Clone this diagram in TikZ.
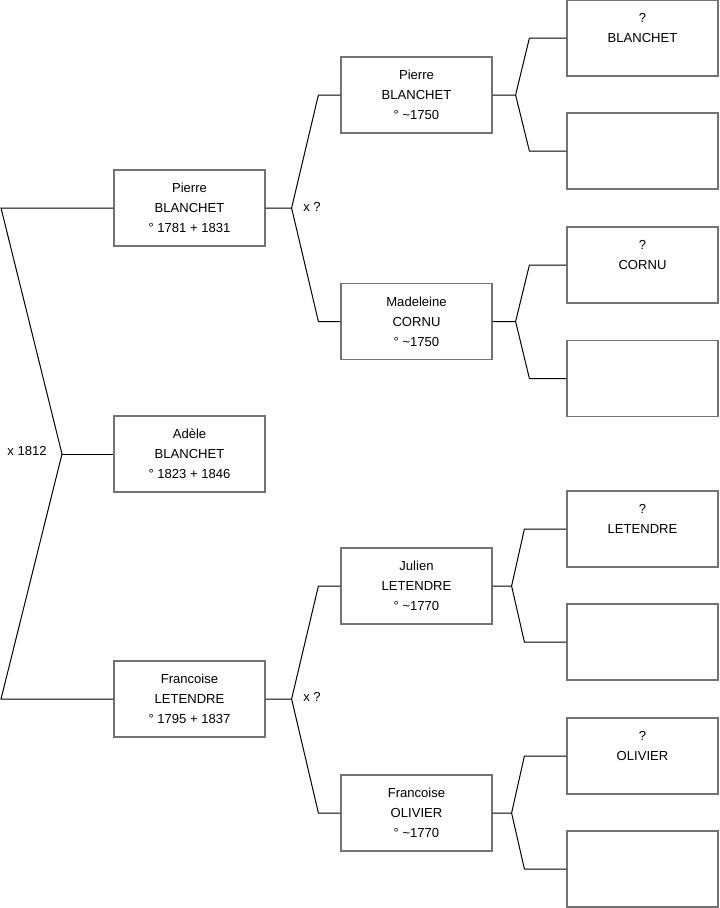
\documentclass[tikz,border=0pt]{standalone}
\usepackage{fontspec}
\setmainfont{Liberation Sans}
\usetikzlibrary{calc}

\tikzset{
	person/.style={draw=black!55, line width=0.9pt, rectangle, minimum width=113.25pt, minimum height=57pt, inner sep=0pt, align=center, font=\fontsize{9.8}{15}\selectfont},
	link/.style={draw=black, line width=0.75pt},
	mlabel/.style={font=\fontsize{9.8}{15}\selectfont, inner sep=0pt},
}

\begin{document}
\begin{tikzpicture}[x=0.75pt,y=-0.75pt]
	\useasboundingbox (0,0) rectangle (719,908);

	% first generation
	\node[person] (p1) at (189.5,208) {Pierre\\BLANCHET\\° 1781 + 1831};
	\node[person] (a) at (189.5,454) {Adèle\\BLANCHET\\° 1823 + 1846};
	\node[person] (f1) at (189.5,699) {Francoise\\LETENDRE\\° 1795 + 1837};

	% second generation
	\node[person] (p2) at (416.5,95) {Pierre\\BLANCHET\\° \textasciitilde1750};
	\node[person] (m2) at (416.5,321.5) {Madeleine\\CORNU\\° \textasciitilde1750};
	\node[person] (j2) at (416.5,586) {Julien\\LETENDRE\\° \textasciitilde1770};
	\node[person] (f2) at (416.5,813) {Francoise\\OLIVIER\\° \textasciitilde1770};

	% third generation
	\node[person] (g1) at (642.5,38) {?\\BLANCHET\\\phantom{0}};
	\node[person] (g2) at (642.5,151) {};
	\node[person] (g3) at (642.5,265) {?\\CORNU\\\phantom{0}};
	\node[person] (g4) at (642.5,378.5) {};
	\node[person] (g5) at (642.5,529) {?\\LETENDRE\\\phantom{0}};
	\node[person] (g6) at (642.5,642) {};
	\node[person] (g7) at (642.5,756) {?\\OLIVIER\\\phantom{0}};
	\node[person] (g8) at (642.5,869) {};

	% marriages
	\node[mlabel] (x1) at (27,451) {x 1812};
	\node[mlabel] (x2) at (312,207) {x ?};
	\node[mlabel] (x3) at (312,697) {x ?};

	% parents of Adele
	\coordinate (lx) at (1,0);
	\coordinate (ja) at (62,454);
	\draw[link] (p1.west) -- (p1.west -| lx) -- (ja) -- (f1.west -| lx) -- (f1.west);
	\draw[link] (ja) -- (a.west);

	% parents of Pierre and Francoise
	\draw[link] (p1.east) -- ++(26,0) coordinate (jp1) -- ($(p2.west)+(-22,0)$) -- (p2.west);
	\draw[link] (jp1) -- ($(m2.west)+(-22,0)$) -- (m2.west);
	\draw[link] (f1.east) -- ++(26,0) coordinate (jf1) -- ($(j2.west)+(-22,0)$) -- (j2.west);
	\draw[link] (jf1) -- ($(f2.west)+(-22,0)$) -- (f2.west);

	% third generation links
	\draw[link] (p2.east) -- ++(23,0) coordinate (jp2) -- ($(g1.west)+(-37,0)$) -- (g1.west);
	\draw[link] (jp2) -- ($(g2.west)+(-37,0)$) -- (g2.west);
	\draw[link] (m2.east) -- ++(23,0) coordinate (jm2) -- ($(g3.west)+(-37,0)$) -- (g3.west);
	\draw[link] (jm2) -- ($(g4.west)+(-37,0)$) -- (g4.west);
	\draw[link] (j2.east) -- ++(19,0) coordinate (jj2) -- ($(g5.west)+(-42,0)$) -- (g5.west);
	\draw[link] (jj2) -- ($(g6.west)+(-42,0)$) -- (g6.west);
	\draw[link] (f2.east) -- ++(19,0) coordinate (jf2) -- ($(g7.west)+(-42,0)$) -- (g7.west);
	\draw[link] (jf2) -- ($(g8.west)+(-42,0)$) -- (g8.west);
\end{tikzpicture}
\end{document}
